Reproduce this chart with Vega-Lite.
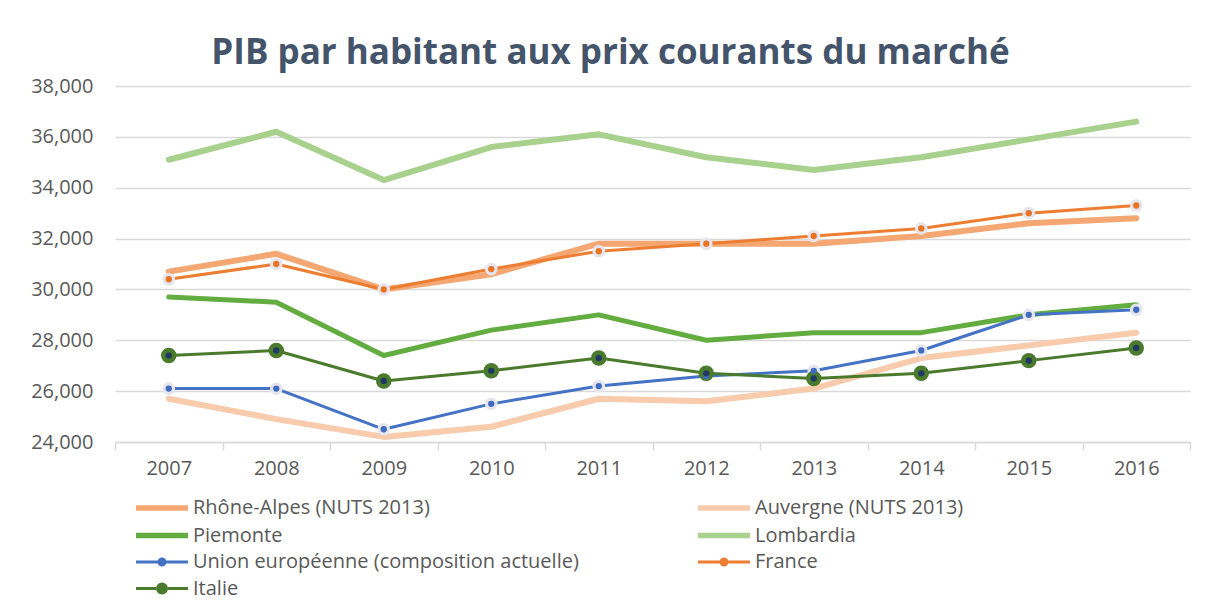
{
  "$schema": "https://vega.github.io/schema/vega-lite/v6.json",
  "width": 1075,
  "height": 356,
  "autosize": {"type": "none"},
  "padding": {"left": 115, "top": 86, "right": 25, "bottom": 168},
  "background": "white",
  "title": {
    "text": "PIB par habitant aux prix courants du marché",
    "font": "Open Sans",
    "fontSize": 35,
    "fontWeight": "bold",
    "color": "#44546A",
    "anchor": "middle",
    "dx": -42,
    "dy": 35,
    "baseline": "alphabetic",
    "offset": 12
  },
  "config": {
    "view": {"stroke": null},
    "font": "Open Sans"
  },
  "data": {
    "values": [
      {"year": "2007", "series": "Rhône-Alpes (NUTS 2013)", "value": 30700},
      {"year": "2008", "series": "Rhône-Alpes (NUTS 2013)", "value": 31400},
      {"year": "2009", "series": "Rhône-Alpes (NUTS 2013)", "value": 30000},
      {"year": "2010", "series": "Rhône-Alpes (NUTS 2013)", "value": 30600},
      {"year": "2011", "series": "Rhône-Alpes (NUTS 2013)", "value": 31800},
      {"year": "2012", "series": "Rhône-Alpes (NUTS 2013)", "value": 31800},
      {"year": "2013", "series": "Rhône-Alpes (NUTS 2013)", "value": 31800},
      {"year": "2014", "series": "Rhône-Alpes (NUTS 2013)", "value": 32100},
      {"year": "2015", "series": "Rhône-Alpes (NUTS 2013)", "value": 32600},
      {"year": "2016", "series": "Rhône-Alpes (NUTS 2013)", "value": 32800},
      {"year": "2007", "series": "Auvergne (NUTS 2013)", "value": 25700},
      {"year": "2008", "series": "Auvergne (NUTS 2013)", "value": 24900},
      {"year": "2009", "series": "Auvergne (NUTS 2013)", "value": 24200},
      {"year": "2010", "series": "Auvergne (NUTS 2013)", "value": 24600},
      {"year": "2011", "series": "Auvergne (NUTS 2013)", "value": 25700},
      {"year": "2012", "series": "Auvergne (NUTS 2013)", "value": 25600},
      {"year": "2013", "series": "Auvergne (NUTS 2013)", "value": 26100},
      {"year": "2014", "series": "Auvergne (NUTS 2013)", "value": 27300},
      {"year": "2015", "series": "Auvergne (NUTS 2013)", "value": 27800},
      {"year": "2016", "series": "Auvergne (NUTS 2013)", "value": 28300},
      {"year": "2007", "series": "Piemonte", "value": 29700},
      {"year": "2008", "series": "Piemonte", "value": 29500},
      {"year": "2009", "series": "Piemonte", "value": 27400},
      {"year": "2010", "series": "Piemonte", "value": 28400},
      {"year": "2011", "series": "Piemonte", "value": 29000},
      {"year": "2012", "series": "Piemonte", "value": 28000},
      {"year": "2013", "series": "Piemonte", "value": 28300},
      {"year": "2014", "series": "Piemonte", "value": 28300},
      {"year": "2015", "series": "Piemonte", "value": 29000},
      {"year": "2016", "series": "Piemonte", "value": 29400},
      {"year": "2007", "series": "Lombardia", "value": 35100},
      {"year": "2008", "series": "Lombardia", "value": 36200},
      {"year": "2009", "series": "Lombardia", "value": 34300},
      {"year": "2010", "series": "Lombardia", "value": 35600},
      {"year": "2011", "series": "Lombardia", "value": 36100},
      {"year": "2012", "series": "Lombardia", "value": 35200},
      {"year": "2013", "series": "Lombardia", "value": 34700},
      {"year": "2014", "series": "Lombardia", "value": 35200},
      {"year": "2015", "series": "Lombardia", "value": 35900},
      {"year": "2016", "series": "Lombardia", "value": 36600},
      {"year": "2007", "series": "Union européenne (composition actuelle)", "value": 26100},
      {"year": "2008", "series": "Union européenne (composition actuelle)", "value": 26100},
      {"year": "2009", "series": "Union européenne (composition actuelle)", "value": 24500},
      {"year": "2010", "series": "Union européenne (composition actuelle)", "value": 25500},
      {"year": "2011", "series": "Union européenne (composition actuelle)", "value": 26200},
      {"year": "2012", "series": "Union européenne (composition actuelle)", "value": 26600},
      {"year": "2013", "series": "Union européenne (composition actuelle)", "value": 26800},
      {"year": "2014", "series": "Union européenne (composition actuelle)", "value": 27600},
      {"year": "2015", "series": "Union européenne (composition actuelle)", "value": 29000},
      {"year": "2016", "series": "Union européenne (composition actuelle)", "value": 29200},
      {"year": "2007", "series": "France", "value": 30400},
      {"year": "2008", "series": "France", "value": 31000},
      {"year": "2009", "series": "France", "value": 30000},
      {"year": "2010", "series": "France", "value": 30800},
      {"year": "2011", "series": "France", "value": 31500},
      {"year": "2012", "series": "France", "value": 31800},
      {"year": "2013", "series": "France", "value": 32100},
      {"year": "2014", "series": "France", "value": 32400},
      {"year": "2015", "series": "France", "value": 33000},
      {"year": "2016", "series": "France", "value": 33300},
      {"year": "2007", "series": "Italie", "value": 27400},
      {"year": "2008", "series": "Italie", "value": 27600},
      {"year": "2009", "series": "Italie", "value": 26400},
      {"year": "2010", "series": "Italie", "value": 26800},
      {"year": "2011", "series": "Italie", "value": 27300},
      {"year": "2012", "series": "Italie", "value": 26700},
      {"year": "2013", "series": "Italie", "value": 26500},
      {"year": "2014", "series": "Italie", "value": 26700},
      {"year": "2015", "series": "Italie", "value": 27200},
      {"year": "2016", "series": "Italie", "value": 27700}
    ]
  },
  "encoding": {
    "x": {
      "field": "year",
      "type": "ordinal",
      "title": null,
      "scale": {"type": "band", "paddingInner": 0, "paddingOuter": 0},
      "axis": {
        "labelAngle": 0,
        "labelFont": "Open Sans",
        "labelFontSize": 20,
        "labelColor": "#595959",
        "labelPadding": 8,
        "domainColor": "#D9D9D9",
        "domainWidth": 1.5,
        "tickColor": "#D9D9D9",
        "tickWidth": 1.5,
        "tickSize": 8,
        "tickBand": "extent",
        "grid": false
      }
    },
    "y": {
      "field": "value",
      "type": "quantitative",
      "title": null,
      "scale": {"domain": [24000, 38000], "nice": false, "zero": false},
      "axis": {
        "values": [24000, 26000, 28000, 30000, 32000, 34000, 36000, 38000],
        "format": ",d",
        "labelFont": "Open Sans",
        "labelFontSize": 20,
        "labelColor": "#595959",
        "labelPadding": 22,
        "domain": false,
        "ticks": false,
        "grid": true,
        "gridColor": "#D9D9D9",
        "gridWidth": 1.5
      }
    }
  },
  "layer": [
    {
      "transform": [{"filter": {"field": "series", "oneOf": ["Lombardia", "Auvergne (NUTS 2013)", "Rhône-Alpes (NUTS 2013)"]}}],
      "mark": {"type": "line", "strokeCap": "round", "strokeJoin": "round", "strokeWidth": 6},
      "encoding": {
        "color": {
          "field": "series",
          "type": "nominal",
          "scale": {
            "domain": ["Rhône-Alpes (NUTS 2013)", "Auvergne (NUTS 2013)", "Piemonte", "Lombardia", "Union européenne (composition actuelle)", "France", "Italie"],
            "range": ["#F4A772", "#F8CBAD", "#62AC40", "#A9D18E", "#4472C4", "#ED7D31", "#4A7A2C"]
          },
          "legend": {
            "title": null,
            "orient": "none",
            "legendX": 21,
            "legendY": 412,
            "direction": "horizontal",
            "columns": 2,
            "columnPadding": 108,
            "rowPadding": 5.5,
            "padding": 0,
            "symbolSize": 400,
            "symbolOffset": 16,
            "labelOffset": 21,
            "labelFont": "Open Sans",
            "labelFontSize": 20,
            "labelColor": "#595959",
            "labelLimit": 800,
            "encode": {
              "symbols": {
                "update": {
                  "fill": {"scale": "color", "field": "value"},
                  "stroke": {"scale": "color", "field": "value"},
                  "strokeWidth": {"signal": "indexof(['Union européenne (composition actuelle)', 'France', 'Italie'], datum.value) >= 0 ? 3 : 5.5"},
                  "shape": {"scale": "shape", "field": "value"}
                }
              }
            }
          }
        }
      }
    },
    {
      "transform": [{"filter": {"field": "series", "equal": "Piemonte"}}],
      "mark": {"type": "line", "strokeCap": "round", "strokeJoin": "round", "strokeWidth": 5},
      "encoding": {
        "color": {"field": "series", "type": "nominal"}
      }
    },
    {
      "transform": [{"filter": {"field": "series", "oneOf": ["Union européenne (composition actuelle)", "France", "Italie"]}}],
      "mark": {"type": "line", "strokeCap": "round", "strokeJoin": "round", "strokeWidth": 3},
      "encoding": {
        "color": {"field": "series", "type": "nominal"}
      }
    },
    {
      "mark": {"type": "point", "filled": true, "size": 0},
      "encoding": {
        "color": {"field": "series", "type": "nominal"},
        "shape": {
          "field": "series",
          "type": "nominal",
          "scale": {
            "domain": ["Rhône-Alpes (NUTS 2013)", "Auvergne (NUTS 2013)", "Piemonte", "Lombardia", "Union européenne (composition actuelle)", "France", "Italie"],
            "range": [
              "M-2.6,0H2.6",
              "M-2.6,0H2.6",
              "M-2.6,0H2.6",
              "M-2.6,0H2.6",
              "M-2.6,0H-0.4M0.4,0H2.6M0.3,0A0.3,0.3,0,1,1,-0.3,0A0.3,0.3,0,1,1,0.3,0Z",
              "M-2.6,0H-0.4M0.4,0H2.6M0.3,0A0.3,0.3,0,1,1,-0.3,0A0.3,0.3,0,1,1,0.3,0Z",
              "M-2.6,0H-0.6M0.6,0H2.6M0.45,0A0.45,0.45,0,1,1,-0.45,0A0.45,0.45,0,1,1,0.45,0Z"
            ]
          }
        }
      }
    },
    {
      "transform": [{"filter": {"field": "series", "oneOf": ["Union européenne (composition actuelle)", "France"]}}],
      "mark": {"type": "point", "filled": true, "shape": "circle", "size": 160, "color": "#E6E5EE", "opacity": 1}
    },
    {
      "transform": [{"filter": {"field": "series", "equal": "Italie"}}],
      "mark": {"type": "point", "filled": true, "shape": "circle", "size": 240, "color": "#4A7A2C", "opacity": 1}
    },
    {
      "transform": [{"filter": {"field": "series", "oneOf": ["Union européenne (composition actuelle)", "France", "Italie"]}}],
      "mark": {"type": "point", "filled": true, "shape": "circle", "size": 40, "opacity": 1},
      "encoding": {
        "fill": {
          "field": "series",
          "type": "nominal",
          "legend": null,
          "scale": {
            "domain": ["Union européenne (composition actuelle)", "France", "Italie"],
            "range": ["#3F6BC0", "#E87424", "#203864"]
          }
        }
      }
    }
  ]
}
